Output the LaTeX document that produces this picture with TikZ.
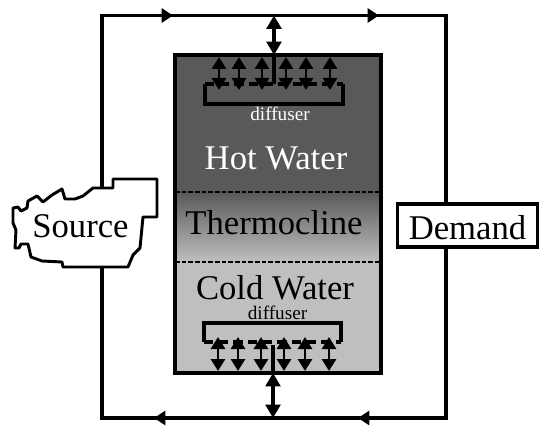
\documentclass[tikz,border=0pt]{standalone}
\usepackage{fontspec}
\setmainfont{Liberation Serif}
\usetikzlibrary{arrows.meta}
\definecolor{hot}{HTML}{595959}
\definecolor{cold}{HTML}{BFBFBF}
\definecolor{mid}{HTML}{9C9C9C}
\tikzset{
 pipe/.style={line width=2.6pt,line join=miter},
 flowtip/.style={pipe,-{Triangle[length=8.5pt,width=10.5pt]}},
 thin pipe/.style={line width=2.4pt},
 dbl/.style={line width=2.2pt,{Triangle[length=9pt,width=10.5pt]}-{Triangle[length=9pt,width=10.5pt]}},
 dblbig/.style={line width=2.4pt,{Triangle[length=10pt,width=11pt]}-{Triangle[length=10pt,width=11pt]}},
 lbl/.style={inner sep=0pt,anchor=base,font=\fontsize{26}{26}\selectfont},
 small/.style={inner sep=0pt,anchor=base,font=\fontsize{14.4}{15}\selectfont},
 diff/.style={line width=2.4pt},
 dashtop/.style={line width=2.4pt,dash pattern=on 7pt off 4pt}
}
\begin{document}
\begin{tikzpicture}[x=0.75pt,y=-0.75pt]
\useasboundingbox (0,0) rectangle (550,442);
% tank fills
\fill[hot] (175,55) rectangle (381,192);
\shade[top color=hot,middle color=mid,bottom color=cold] (175,192) rectangle (381,262);
\fill[cold] (175,262) rectangle (381,373);
\draw[black,line width=1pt,dash pattern=on 3.5pt off 1.5pt] (175,192) -- (381,192);
\draw[black,line width=1pt,dash pattern=on 3.5pt off 1.5pt] (175,262) -- (381,262);
\node[draw,pipe,minimum width=154.5pt,minimum height=238.5pt,inner sep=0pt] (tank) at (278,214) {};
% Demand
\node[draw,pipe,inner sep=0pt,minimum width=105pt,minimum height=32pt,fill=white] (demand) at (467.5,225.5) {};
\node[lbl] (demandtext) at (467.5,239) {Demand};
% Source
\draw[line width=2.2pt,fill=white,line join=round] (113,179) -- (157,179) -- (157,217) -- (143,217) -- (140,248) -- (133,255) -- (128,267) -- (63,267) -- (62,262) -- (42,261) -- (31,257) -- (28,244) -- (21,244) -- (19,248) -- (15,248) -- (16,230) -- (13,223) -- (13,208) -- (18,207) -- (21,211) -- (27,208) -- (28,201) -- (37,196) -- (43,202) -- (52,195) -- (62,189) -- (65,199) -- (75,199) -- (83,196) -- (93,188) -- (113,188) -- cycle;
\node[lbl] (source) at (80.5,238) {Source};
\coordinate (tl) at (102,15.5);
\coordinate (tr) at (446,15.5);
\coordinate (bl) at (102,418);
\coordinate (br) at (446,418);
\coordinate (st) at (274,15.5);
\coordinate (sb) at (273,418);
\coordinate (f1) at (173,15.5);
\coordinate (f2) at (379,15.5);
\coordinate (f3) at (358,418);
\coordinate (f4) at (154,418);
% loop
\draw[pipe] (102,187) -- (tl) -- (st) -- (tr) -- (demand.north -| tr);
\draw[pipe] (demand.south -| br) -- (br) -- (sb) -- (bl) -- (102,267);
\draw[flowtip] (150,15.5) -- (f1);
\draw[flowtip] (360,15.5) -- (f2);
\draw[flowtip] (385,418) -- (f3);
\draw[flowtip] (175,418) -- (f4);
% stems
\draw[dblbig] (st) -- (274,55);
\draw[dblbig] (sb) -- (273,373);
\draw[thin pipe] (274,55) -- (274,84);
\draw[thin pipe] (273,373) -- (273,345);
\node[small,text=white] (d1) at (280,121) {diffuser};
\node[small] (d2) at (277.5,319) {diffuser};
% top diffuser
\draw[diff] (205,84) -- (205,104) -- (343,104) -- (343,84);
\draw[dashtop] (205,84) -- (343,84);
\foreach \x in {219,239,262,286,306,330} \draw[dbl] (\x,57) -- (\x,90);
% bottom diffuser
\draw[diff] (204,342) -- (204,323) -- (341,323) -- (341,342);
\draw[dashtop] (204,342) -- (341,342);
\foreach \x in {218,238,261,284,305,329} \draw[dbl] (\x,337) -- (\x,371);
\node[lbl,text=white] (hw) at (276,170) {Hot Water};
\node[lbl] (tc) at (274,235) {Thermocline};
\node[lbl] (cw) at (275,299.5) {Cold Water};
\end{tikzpicture}
\end{document}
